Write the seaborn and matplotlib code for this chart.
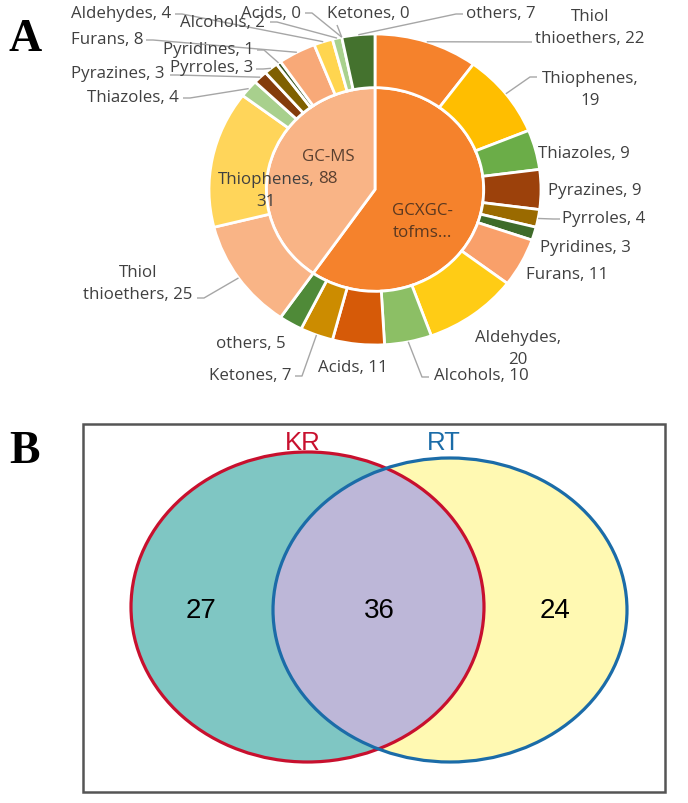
import matplotlib
matplotlib.use("Agg")
import matplotlib.pyplot as plt
import seaborn as sns
import numpy as np
from matplotlib.patches import Ellipse, Rectangle

# ---------------- data ----------------
methods = ["GCXGC-tofms", "GC-MS"]
categories = ["Thiol thioethers", "Thiophenes", "Thiazoles", "Pyrazines", "Pyrroles",
              "Pyridines", "Furans", "Aldehydes", "Alcohols", "Acids", "Ketones", "others"]
gcxgc_counts = [22, 19, 9, 9, 4, 3, 11, 20, 10, 11, 7, 5]
gcms_counts = [25, 31, 4, 3, 3, 1, 8, 4, 2, 0, 0, 7]
venn_sets = ["KR", "RT"]
venn_counts = [27, 36, 24]          # KR only, shared, RT only

# ---------------- styles ----------------
inner_colors = ["#F5822C", "#F9B486"]
gcxgc_colors = ["#F5822C", "#FFBE00", "#6BAD48", "#9C410B", "#9A6A00", "#3E6B2A",
                "#F9A06A", "#FFCC15", "#8CBF65", "#D65A08", "#CC8C00", "#4F8A38"]
gcms_colors = ["#F9B486", "#FFD55A", "#A8D08D", "#843C0C", "#7F6000", "#385723",
               "#F8A978", "#FFD54F", "#A9D18E", "#F08030", "#C09000", "#44722E"]

sns.set_theme(style="white")
plt.rcParams["font.family"] = ["Open Sans", "DejaVu Sans"]

W, H = 688, 804
fig = plt.figure(figsize=(W / 100, H / 100), dpi=100)
fig.patch.set_facecolor("white")

# donut geometry (pixels)
CX, CY, RX, RY = 375, 190.5, 166, 155.5


def P(px, py):
    return ((px - CX) / RX, (CY - py) / RY)


ax1 = fig.add_axes([0, 0, 1, 1])
inner_vals = [sum(gcxgc_counts), sum(gcms_counts)]
ax1.pie(inner_vals, radius=0.655, startangle=90, counterclock=False,
        colors=inner_colors, wedgeprops=dict(edgecolor="white", linewidth=2))

outer_vals, outer_cols = [], []
for counts, cols in ((gcxgc_counts, gcxgc_colors), (gcms_counts, gcms_colors)):
    for v, c in zip(counts, cols):
        if v > 0:
            outer_vals.append(v)
            outer_cols.append(c)
ax1.pie(outer_vals, radius=1.0, startangle=90, counterclock=False, colors=outer_cols,
        wedgeprops=dict(width=0.345, edgecolor="white", linewidth=2))
ax1.set_aspect("auto")
ax1.set_xlim(-CX / RX, (W - CX) / RX)
ax1.set_ylim((CY - H) / RY, CY / RY)
ax1.axis("off")

# label layout: (center px, center py, attach point or None, wrap mode)
gcxgc_layout = [
    (590, 28, (532, 43), "name"), (590, 90, (537, 78), "comma"),
    (584, 154, None, None), (595, 191, None, None), (604, 219, (560, 220), None),
    (585, 248, None, None), (567, 275, None, None), (518, 349, None, "comma"),
    (481, 376, (429, 378), None), (353, 368, None, None), (250, 376, (295, 377), None),
    (251, 344, None, None)]
gcms_layout = [
    (138, 284, (197, 299), "name"), (266, 191, None, "comma"),
    (133, 98, (183, 99), None), (118, 74, (170, 76), None), (212, 68, (256, 70), None),
    (208, 50, (257, 51), None), (107, 40, (146, 41), None), (121, 14, (175, 15), None),
    (222, 23, (270, 23), None), (271, 14, (305, 14), None), (368, 14, (337, 26), "below"),
    (501, 14, (463, 15), None)]

TXT = "#404040"
LINE = "#A6A6A6"
FS = 12.2
total = sum(gcxgc_counts) + sum(gcms_counts)
cum = 0
for counts, layout in ((gcxgc_counts, gcxgc_layout), (gcms_counts, gcms_layout)):
    for cat, v, (lx, ly, att, mode) in zip(categories, counts, layout):
        mid = cum + v / 2
        cum += v
        if mode == "name":
            a, b = cat.split(" ", 1)
            s = f"{a}\n{b}, {v}"
        elif mode == "comma":
            s = f"{cat},\n{v}"
        else:
            s = f"{cat}, {v}"
        tx, ty = P(lx, ly)
        ax1.text(tx, ty, s, ha="center", va="center", fontsize=FS, color=TXT,
                 linespacing=1.55)
        if att is not None:
            theta = np.deg2rad(360 * mid / total)
            ax_, ay_ = np.sin(theta), np.cos(theta)
            apx, apy = att
            if mode == "below":
                xs = [ax_, P(apx, apy)[0]]
                ys = [ay_, P(apx, apy)[1]]
            else:
                anchor_px = CX + ax_ * RX
                d = 7 if anchor_px > apx else -7
                e = P(apx + d, apy)
                a2 = P(apx, apy)
                xs = [ax_, e[0], a2[0]]
                ys = [ay_, e[1], a2[1]]
            ax1.plot(xs, ys, color=LINE, lw=1.0, solid_capstyle="butt")

# inner labels
ax1.text(*P(328, 168), f"GC-MS\n{inner_vals[1]}", ha="center", va="center",
         fontsize=FS, color="#5A4030", linespacing=1.55)
ax1.text(*P(422, 222), "GCXGC-\ntofms...", ha="center", va="center",
         fontsize=FS, color="#5A3820", linespacing=1.55)

# ---------------- Venn ----------------
ax2 = fig.add_axes([0, 0, 1, 1])
ax2.set_facecolor("none")
ax2.set_xlim(0, W)
ax2.set_ylim(H, 0)
ax2.axis("off")

ax2.add_patch(Rectangle((83, 425), 582, 368, fill=False, ec="#555555", lw=1.8))
kr_geom = dict(xy=(307.5, 608), width=353, height=310)
rt_geom = dict(xy=(450, 611), width=354, height=304)
ax2.add_patch(Ellipse(**kr_geom, fc="#7FC6C3", ec="none"))
ax2.add_patch(Ellipse(**rt_geom, fc="#FFF9B2", ec="none"))
lens = Ellipse(**rt_geom, fc="#BDB7D8", ec="none")
ax2.add_patch(lens)
clip = Ellipse(**kr_geom, transform=ax2.transData)
lens.set_clip_path(clip)
ax2.add_patch(Ellipse(**kr_geom, fill=False, ec="#C8102E", lw=2.3))
ax2.add_patch(Ellipse(**rt_geom, fill=False, ec="#1B6CA8", lw=2.3))

vfont = ["Liberation Sans", "DejaVu Sans"]
for x, n in zip([201, 379, 555], venn_counts):
    ax2.text(x, 611, str(n), ha="center", va="center", fontsize=20, color="black",
             family=vfont)
for x, name, c in zip([303, 444], venn_sets, ["#C8102E", "#1B6CA8"]):
    ax2.text(x, 443, name, ha="center", va="center", fontsize=18.5, color=c,
             family=vfont)

# panel letters
for y, letter in ((40, "A"), (452, "B")):
    ax2.text(25, y, letter, ha="center", va="center", fontsize=33, fontweight="bold",
             color="black", family=["Liberation Serif", "DejaVu Serif"])

fig.savefig("out.png", dpi=100, facecolor="white")
